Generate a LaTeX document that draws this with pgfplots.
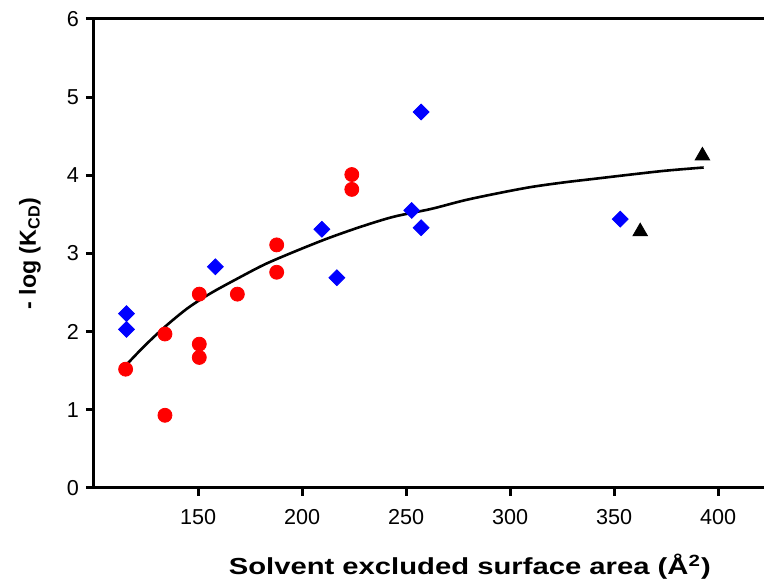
\documentclass[border=0pt]{standalone}
\usepackage{fontspec}
\setmainfont{Liberation Sans}
\usepackage{pgfplots}
\pgfplotsset{compat=1.18}

\begin{document}
\begin{tikzpicture}
\begin{axis}[
  scale only axis, width=335pt, height=234.5pt,
  xmin=100, xmax=422, ymin=0, ymax=6,
  axis lines*=left,
  axis line style={line width=1.5pt,-},
  xtick={150,200,...,400}, ytick={0,1,...,6},
  tick style={line width=1.5pt,black}, tick align=outside,
  major tick length=4pt,
  /pgf/number format/assume math mode=true,
  tick label style={font=\fontsize{10.8}{12}\selectfont},
  xticklabel style={yshift=-3pt},
  label style={font=\fontsize{11.6}{13}\selectfont\bfseries},
  xlabel={Solvent excluded surface area (Å\textsuperscript{2})},
  ylabel={- log (K\textsubscript{CD})},
  xlabel style={at={(axis description cs:0.561,-0.1855)},anchor=base,xscale=1.26},
  ylabel style={at={(axis description cs:-0.0955,0.5)},anchor=center,rotate=0},
  clip=false,
]
% red circles
\addplot[only marks,mark=*,mark size=3.5pt,color=red,fill=red] coordinates {
  (115.2,1.52) (134.1,1.97) (134.1,0.93) (150.6,2.48) (150.6,1.84)
  (150.6,1.67) (168.9,2.48) (187.8,3.11) (187.8,2.76) (223.9,4.01)
  (223.9,3.82)};
% blue diamonds
\addplot[only marks,mark=square*,mark size=2.8pt,mark options={rotate=45},
  color=blue,fill=blue] coordinates {
  (115.6,2.23) (115.6,2.03) (158.3,2.83) (209.5,3.31) (216.7,2.69)
  (252.7,3.55) (257.2,4.81) (257.2,3.33) (352.9,3.44)};
% black triangles
\addplot[only marks,mark=triangle*,mark size=4.2pt,color=black,fill=black] coordinates {
  (362.5,3.28) (392.4,4.25)};
% fitted curve
\addplot[black,line width=1.3pt,smooth] coordinates {
  (115,1.56) (124,1.81) (134,2.06) (145,2.30) (156,2.49) (169,2.68)
  (182,2.86) (196,3.02) (212,3.19) (228,3.34) (244,3.47) (262,3.57)
  (278,3.68) (294,3.77) (310,3.85) (326,3.91) (342,3.96) (358,4.01)
  (375,4.06) (393,4.10)};
\draw[line width=1.5pt] (rel axis cs:0,1) -- (rel axis cs:1,1);
\coordinate (o) at (rel axis cs:0,0);
\coordinate (t) at (rel axis cs:1,1);
\end{axis}
\pgfresetboundingbox
\useasboundingbox ([xshift=-47pt,yshift=-48pt]o) rectangle ([yshift=9.5pt]t);
\end{tikzpicture}
\end{document}
